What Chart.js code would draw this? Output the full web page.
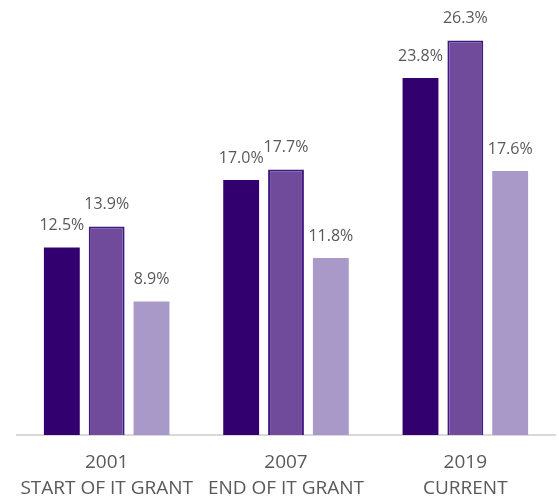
<!DOCTYPE html>
<html>
<head>
<meta charset="utf-8">
<script src="https://cdn.jsdelivr.net/npm/chart.js@4"></script>
<style>
  html, body { margin: 0; padding: 0; background: #fff; }
  #wrap { width: 559px; height: 498px; }
</style>
</head>
<body>
<div id="wrap"><canvas id="grantChart" width="559" height="498"></canvas></div>
<script>
// Category labels (two lines each)
const years = ['2001', '2007', '2019'];
const periods = ['START OF IT GRANT', 'END OF IT GRANT', 'CURRENT'];

// Series values (%)
const seriesA = [12.5, 17.0, 23.8];
const seriesB = [13.9, 17.7, 26.3];
const seriesC = [8.9, 11.8, 17.6];

// Draw the value labels above each bar
const valueLabels = {
    id: 'valueLabels',
    afterDatasetsDraw(chart) {
        const ctx = chart.ctx;
        ctx.save();
        ctx.font = '16px "Open Sans", sans-serif';
        ctx.fillStyle = '#595959';
        ctx.textAlign = 'center';
        ctx.textBaseline = 'middle';
        chart.data.datasets.forEach((ds, i) => {
            chart.getDatasetMeta(i).data.forEach((bar, j) => {
                ctx.fillText(ds.data[j].toFixed(1) + '%', bar.x, bar.y - 22);
            });
        });
        ctx.restore();
    }
};

const ctx = document.getElementById('grantChart').getContext('2d');
new Chart(ctx, {
    type: 'bar',
    data: {
        labels: years.map((y, i) => [y, periods[i]]),
        datasets: [
            { data: seriesA, backgroundColor: '#33006f', borderWidth: 0 },
            { data: seriesB, backgroundColor: '#714b9b', borderColor: '#3f1a84', borderWidth: 2 },
            { data: seriesC, backgroundColor: '#a899c8', borderWidth: 0 }
        ]
    },
    options: {
        responsive: false,
        animation: false,
        layout: { padding: { left: 17, right: 4, top: 0, bottom: -19 } },
        plugins: {
            legend: { display: false },
            tooltip: { enabled: false }
        },
        datasets: {
            bar: { categoryPercentage: 0.75, barPercentage: 0.80 }
        },
        scales: {
            x: {
                grid: { display: false, drawTicks: false },
                border: { display: true, color: '#d9d9d9', width: 2 },
                ticks: {
                    color: '#595959',
                    font: { family: '"Open Sans", sans-serif', size: 19, lineHeight: 1.37 },
                    padding: 15,
                    maxRotation: 0
                }
            },
            y: {
                display: false,
                min: 0,
                max: 29
            }
        }
    },
    plugins: [valueLabels]
});
</script>
</body>
</html>
